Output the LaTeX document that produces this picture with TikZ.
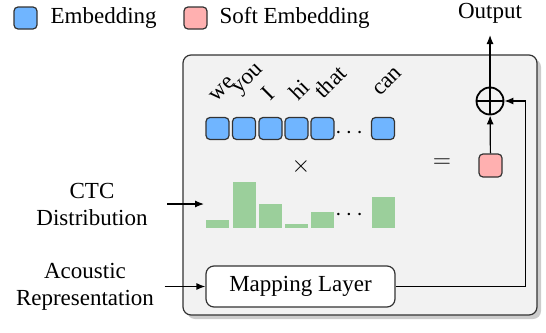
\documentclass[tikz,border=0pt]{standalone}
\usepackage{fontspec}
\setmainfont{Liberation Serif}
\usetikzlibrary{arrows.meta,shadows}

\definecolor{embblue}{RGB}{112,181,255}
\definecolor{softpink}{RGB}{255,176,176}
\definecolor{ctcgreen}{RGB}{155,207,155}
\definecolor{panelgray}{RGB}{242,242,242}

\begin{document}
\begin{tikzpicture}[x=0.5pt,y=-0.5pt,
    font=\fontsize{11.5}{13.5}\selectfont, line width=0.6pt,
    >={Latex[length=4.5pt,width=3.5pt]},
    emb/.style={draw=black!80, fill=embblue, rounded corners=2pt,
      minimum width=11.5pt, minimum height=11pt, inner sep=0pt},
    soft/.style={emb, fill=softpink, minimum height=11.5pt},
    bar/.style={fill=ctcgreen},
    word/.style={rotate=45, anchor=base west, inner sep=0pt},
    lbl/.style={align=center, inner sep=0pt}]
  \useasboundingbox (0,0) rectangle (546,332);

  % legend
  \node[emb, minimum height=11pt] (legemb) at (25.5,18) {};
  \node[lbl, anchor=west] (legembtxt) at (50,18) {Embedding};
  \node[soft, minimum height=11pt] (legsoft) at (195.5,18) {};
  \node[lbl, anchor=west] (legsofttxt) at (219,18) {Soft Embedding};

  % panel
  \filldraw[draw=black!80, fill=panelgray, rounded corners=4pt,
    drop shadow={shadow xshift=2pt, shadow yshift=-2pt, fill=black!40}]
    (183,55) rectangle (537,315);

  % words and embeddings
  \foreach \w/\x/\y [count=\i] in {we/216/103, you/239/95, I/270/102,
      hi/298/102, that/323/100, can/380/97}
    \node[word] (w\i) at (\x,\y) {\w};
  \foreach \x [count=\i] in {217.5,244,270.5,296.5,322.5}
    \node[emb] (e\i) at (\x,128.5) {};
  \node[inner sep=0pt] (edots) at (349,133) {$\cdots$};
  \node[emb] (e6) at (383,128.5) {};

  \node (times) at (301,166) {\fontsize{13}{15}\selectfont$\times$};

  % ctc bars
  \foreach \x/\h [count=\i] in {217.5/8, 244/46, 270.5/24, 296.5/4,
      322.5/16, 383/31}
    \fill[bar] (\x-11.5,228) rectangle (\x+11.5,228-\h);
  \node[inner sep=0pt] (bdots) at (349,215) {$\cdots$};

  \node (eq) at (442,163) {\fontsize{13}{15}\selectfont$=$};
  \node[soft] (soft) at (490.5,165.5) {};

  \node[circle, draw, line width=0.9pt, minimum size=13.5pt,
    inner sep=0pt] (plus) at (490,101) {};
  \draw[line width=0.9pt] (plus.north) -- (plus.south)
    (plus.west) -- (plus.east);

  \node[draw=black!80, fill=white, rounded corners=4pt,
    minimum width=94.5pt, minimum height=20.5pt] (map) at (300.5,286.5)
    {Mapping Layer};

  % labels outside
  \node[lbl] (ctc) at (92,204) {CTC\\Distribution};
  \node[lbl] (acou) at (85,286.5) {Acoustic\\Representation};
  \node[inner sep=0pt] (out) at (490,13) {Output};
  \coordinate (ctcin) at (204,204);

  \draw[->] ([xshift=9.5pt]ctc.east) -- (ctcin);
  \draw[->] ([xshift=5pt]acou.east) -- (map.west);
  \draw[->] (map.east) -- ++(130,0) |- (plus.east);
  \draw[->] (soft) -- (plus);
  \draw[->] (plus) -- ([yshift=-11pt]out.center);
\end{tikzpicture}
\end{document}
